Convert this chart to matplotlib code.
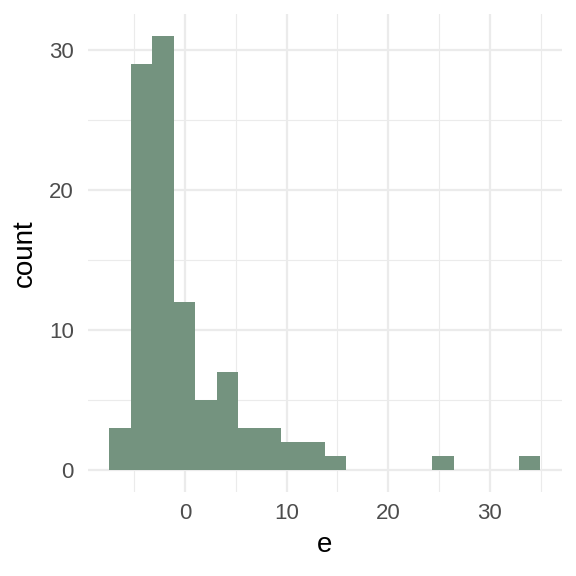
import numpy as np
import matplotlib
matplotlib.use('Agg')
import matplotlib.pyplot as plt
from matplotlib.ticker import MultipleLocator

# histogram: 20 bins from about -7.47 to 34.93
BIN_LO = -7.47
BIN_HI = 34.93
counts = [3, 29, 31, 12, 5, 7, 3, 3, 2, 2, 1, 0, 0, 0, 0, 1, 0, 0, 0, 1]
edges = np.linspace(BIN_LO, BIN_HI, len(counts) + 1)

plt.rcParams['font.family'] = ['Liberation Sans', 'DejaVu Sans']

fig = plt.figure(figsize=(5.76, 5.76), dpi=100)
ax = fig.add_axes([0.152, 0.146, 0.823, 0.829])

ax.bar(edges[:-1], counts, width=np.diff(edges), align='edge',
       color='#74937F', linewidth=0, zorder=3)

span = BIN_HI - BIN_LO
ax.set_xlim(BIN_LO - 0.05 * span, BIN_HI + 0.05 * span)
ax.set_ylim(-0.05 * max(counts), max(counts) * 1.05)

ax.xaxis.set_major_locator(MultipleLocator(10))
ax.yaxis.set_major_locator(MultipleLocator(10))
ax.xaxis.set_minor_locator(MultipleLocator(10, offset=5))
ax.yaxis.set_minor_locator(MultipleLocator(10, offset=5))
ax.grid(which='major', color='#EBEBEB', lw=1.6, zorder=0)
ax.grid(which='minor', color='#EBEBEB', lw=0.8, zorder=0)
ax.set_axisbelow(True)
for s in ax.spines.values():
    s.set_visible(False)
ax.tick_params(which='both', length=0, labelsize=16, labelcolor='#4D4D4D')
ax.tick_params(axis='y', pad=10)
ax.tick_params(axis='x', pad=8)

ax.set_xlabel('e', fontsize=20, labelpad=6)
ax.set_ylabel('count', fontsize=20, labelpad=8)

fig.savefig('out.png', dpi=100)
